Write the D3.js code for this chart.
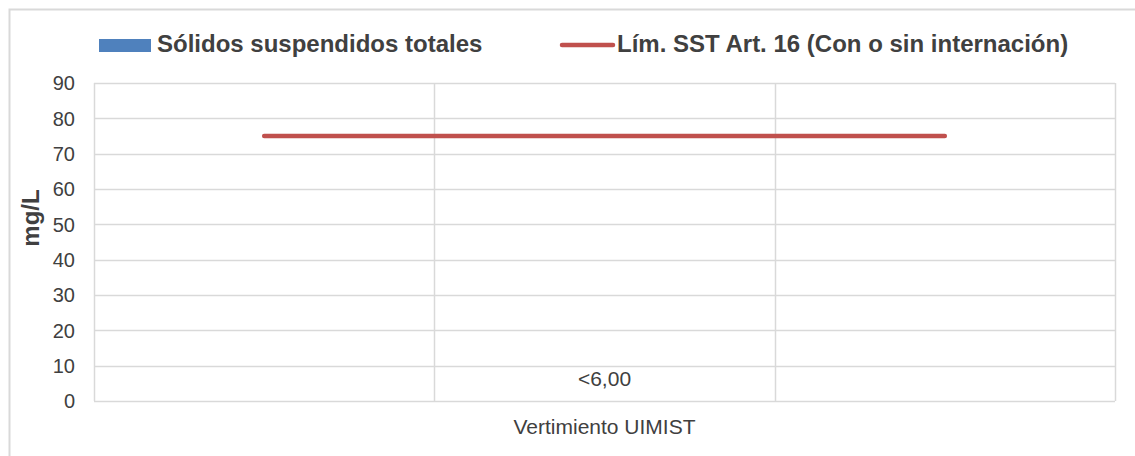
<!DOCTYPE html>
<html>
<head>
<meta charset="utf-8">
<script src="https://cdn.jsdelivr.net/npm/d3@7"></script>
<style>
  body { margin: 0; background: #fff; }
  text { font-family: "Liberation Sans", Arial, sans-serif; fill: #404040; }
</style>
</head>
<body>
<div id="chart"></div>
<script>
// data
var categories = ["", "Vertimiento UIMIST", ""];
var sstValues = [null, 0, null];
var sstLabels = ["", "<6,00", ""];
var limitValues = [75, 75, 75];
var yTicks = [0, 10, 20, 30, 40, 50, 60, 70, 80, 90];

var W = 1135, H = 456;
var plotLeft = 94, plotRight = 1115, plotTop = 83, plotBottom = 401;

var svg = d3.select("#chart").append("svg")
    .attr("width", W)
    .attr("height", H);

// outer frame (runs off the right and bottom)
svg.append("path")
    .attr("d", "M9.5," + H + "V9.5H" + W)
    .attr("fill", "none")
    .attr("stroke", "#d9d9d9")
    .attr("stroke-width", 2);

var x = d3.scaleBand()
    .domain(d3.range(categories.length))
    .range([plotLeft, plotRight]);

var y = d3.scaleLinear()
    .domain([0, 90])
    .range([plotBottom, plotTop]);

// horizontal grid
svg.selectAll(".hgrid")
    .data(yTicks)
    .enter().append("line")
    .attr("class", "hgrid")
    .attr("x1", plotLeft)
    .attr("x2", plotRight)
    .attr("y1", function (d) { return Math.round(y(d)) + 0.5 })
    .attr("y2", function (d) { return Math.round(y(d)) + 0.5 })
    .attr("stroke", "#d9d9d9")
    .attr("stroke-width", 1.5);

// vertical grid at band edges
var edges = d3.range(categories.length + 1).map(function (i) {
    return i < categories.length ? x(i) : x(i - 1) + x.bandwidth();
});
svg.selectAll(".vgrid")
    .data(edges)
    .enter().append("line")
    .attr("class", "vgrid")
    .attr("x1", function (d) { return Math.round(d) + 0.5 })
    .attr("x2", function (d) { return Math.round(d) + 0.5 })
    .attr("y1", plotTop)
    .attr("y2", plotBottom)
    .attr("stroke", "#d9d9d9")
    .attr("stroke-width", 1.5);

// y axis labels
svg.selectAll(".ylab")
    .data(yTicks)
    .enter().append("text")
    .attr("class", "ylab")
    .attr("x", 75)
    .attr("y", function (d) { return y(d) })
    .attr("dy", "0.36em")
    .attr("text-anchor", "end")
    .style("font-size", "20px")
    .text(function (d) { return d });

// y axis title
svg.append("text")
    .attr("transform", "translate(39,218) rotate(-90)")
    .attr("text-anchor", "middle")
    .style("font-size", "24px")
    .style("font-weight", "bold")
    .text("mg/L");

// category label
svg.selectAll(".xlab")
    .data(categories)
    .enter().append("text")
    .attr("class", "xlab")
    .attr("x", function (d, i) { return x(i) + x.bandwidth() / 2 })
    .attr("y", 434)
    .attr("text-anchor", "middle")
    .style("font-size", "21px")
    .text(function (d) { return d });

// bars (value below detection limit, so no visible height)
svg.selectAll(".bar")
    .data(sstValues)
    .enter().append("rect")
    .attr("class", "bar")
    .attr("x", function (d, i) { return x(i) + x.bandwidth() * 0.3 })
    .attr("width", x.bandwidth() * 0.4)
    .attr("y", function (d) { return y(d || 0) })
    .attr("height", function (d) { return plotBottom - y(d || 0) })
    .attr("fill", "#4f81bd");

svg.selectAll(".barlab")
    .data(sstLabels)
    .enter().append("text")
    .attr("class", "barlab")
    .attr("x", function (d, i) { return x(i) + x.bandwidth() / 2 })
    .attr("y", 386)
    .attr("text-anchor", "middle")
    .style("font-size", "21px")
    .text(function (d) { return d });

// limit line
var line = d3.line()
    .x(function (d, i) { return x(i) + x.bandwidth() / 2 })
    .y(function (d) { return y(d) });

svg.append("path")
    .datum(limitValues)
    .attr("d", line)
    .attr("fill", "none")
    .attr("stroke", "#c0504d")
    .attr("stroke-width", 4.5)
    .attr("stroke-linecap", "round");

// legend
svg.append("rect")
    .attr("x", 99).attr("y", 39)
    .attr("width", 52).attr("height", 13)
    .attr("fill", "#4f81bd");
svg.append("text")
    .attr("x", 157).attr("y", 52)
    .style("font-size", "24px")
    .style("font-weight", "bold")
    .text("Sólidos suspendidos totales");

svg.append("line")
    .attr("x1", 562).attr("x2", 613)
    .attr("y1", 45).attr("y2", 45)
    .attr("stroke", "#c0504d")
    .attr("stroke-width", 4.5)
    .attr("stroke-linecap", "round");
svg.append("text")
    .attr("x", 617).attr("y", 52)
    .style("font-size", "24px")
    .style("font-weight", "bold")
    .text("Lím. SST Art. 16 (Con o sin internación)");
</script>
</body>
</html>
